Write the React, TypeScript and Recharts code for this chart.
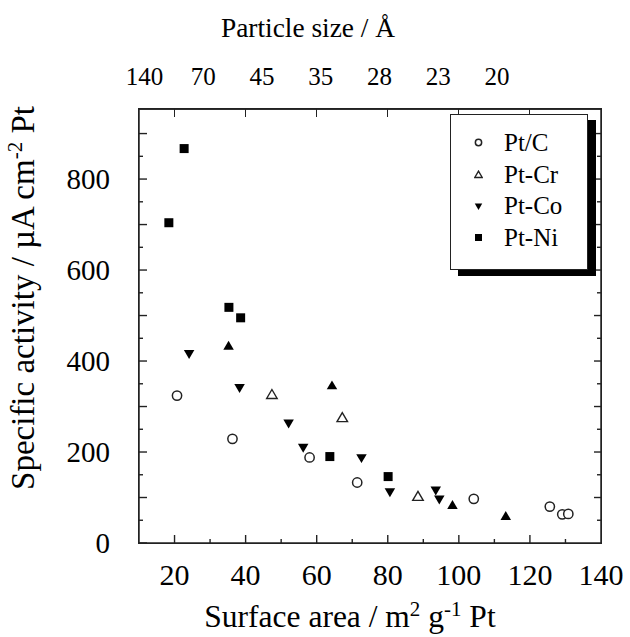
import { ScatterChart, Scatter, XAxis, YAxis, ReferenceLine } from 'recharts';

const W = 630;
const H = 637;
const FONT = '"Liberation Serif", "Times New Roman", serif';
const INK = '#222';

// surface area (m2/g Pt) vs specific activity (uA/cm2 Pt)
const ptC = [
  { area: 20.7, activity: 324 },
  { area: 36.3, activity: 229 },
  { area: 58.0, activity: 188 },
  { area: 71.4, activity: 133 },
  { area: 104.2, activity: 97 },
  { area: 125.6, activity: 80 },
  { area: 129.1, activity: 63 },
  { area: 130.8, activity: 64 },
];
const ptCr = [
  { area: 47.4, activity: 327 },
  { area: 67.2, activity: 276 },
  { area: 88.5, activity: 103 },
];
const ptCo = [
  { area: 24.1, activity: 415 },
  { area: 38.3, activity: 340 },
  { area: 52.1, activity: 262 },
  { area: 56.2, activity: 209 },
  { area: 72.6, activity: 186 },
  { area: 80.6, activity: 111 },
  { area: 93.5, activity: 115 },
  { area: 94.5, activity: 95 },
];
const ptNi = [
  { area: 18.4, activity: 704 },
  { area: 22.7, activity: 867 },
  { area: 35.3, activity: 518 },
  { area: 38.6, activity: 495 },
  { area: 63.7, activity: 190 },
  { area: 80.1, activity: 146 },
];
// solid up-triangles, not in the legend
const solidUp = [
  { area: 35.2, activity: 434 },
  { area: 64.3, activity: 347 },
  { area: 98.2, activity: 84 },
  { area: 113.2, activity: 60 },
];

const X_DOMAIN = [10, 140];
const areaTicks = [20, 30, 40, 50, 60, 70, 80, 90, 100, 110, 120, 130, 140];
const areaLabels = [20, 40, 60, 80, 100, 120, 140];
const topFrameTicks = [20, 40, 60, 80, 100, 120];
const particleAreas = [20, 40, 60, 80, 100, 120, 140];
const particleSizes = ['140', '70', '45', '35', '28', '23', '20'];
const activityTicks = [0, 50, 100, 150, 200, 250, 300, 350, 400, 450, 500, 550, 600, 650, 700, 750, 800, 850, 900];
const activityLabels = [0, 200, 400, 600, 800];
const Y_MAX = 954;

const legendItems = [
  { name: 'Pt/C', kind: 'circle' },
  { name: 'Pt-Cr', kind: 'openUp' },
  { name: 'Pt-Co', kind: 'down' },
  { name: 'Pt-Ni', kind: 'square' },
];

// invisible anchors so the top axis has something to scale
const topAnchors = particleAreas.map((area) => ({ area, activity: 0 }));

const TOP_H = 109;
const BOTTOM_H = 94;
const LEFT_W = 139;
const RIGHT_W = 29;
const BOTTOM_MARGIN = 42;
const LEFT_MARGIN = 29;
const TOP_MARGIN = 24;

function marker(kind: string, cx: number, cy: number, s: number) {
  const h = s / 2;
  if (kind === 'circle')
    return <circle cx={cx} cy={cy} r={h - 0.6} fill="#fff" stroke={INK} strokeWidth={1.5} />;
  if (kind === 'square')
    return <rect x={cx - h} y={cy - h} width={s} height={s} fill="#000" />;
  if (kind === 'down')
    return <polygon points={`${cx - h},${cy - h * 0.8} ${cx + h},${cy - h * 0.8} ${cx},${cy + h * 0.9}`} fill="#000" />;
  const pts = `${cx - h},${cy + h * 0.8} ${cx + h},${cy + h * 0.8} ${cx},${cy - h * 0.9}`;
  if (kind === 'openUp') return <polygon points={pts} fill="#fff" stroke={INK} strokeWidth={1.4} />;
  return <polygon points={pts} fill="#000" />;
}

const shapeOf = (kind: string) => (p: any) => marker(kind, p.cx, p.cy, kind === 'square' ? 9 : 10.5);

const LeftTick = (p: any) => {
  const v = p.payload.value;
  const ax = p.x + LEFT_MARGIN;
  const major = v % 100 === 0;
  return (
    <g>
      <line x1={ax} x2={ax + (major ? 8 : 4)} y1={p.y} y2={p.y} stroke={INK} strokeWidth={1.4} />
      {activityLabels.includes(v) && (
        <text x={p.x} y={p.y} dy="0.34em" textAnchor="end" fontFamily={FONT} fontSize={29} fill="#000">
          {v}
        </text>
      )}
    </g>
  );
};

const RightTick = (p: any) => {
  const v = p.payload.value;
  const major = v % 100 === 0;
  return <line x1={p.x} x2={p.x - (major ? 7 : 4)} y1={p.y} y2={p.y} stroke={INK} strokeWidth={1.4} />;
};

const BottomTick = (p: any) => {
  const v = p.payload.value;
  const ay = p.y - BOTTOM_MARGIN;
  const major = v % 20 === 0;
  return (
    <g>
      {v < 140 && <line x1={p.x} x2={p.x} y1={ay} y2={ay - (major ? 8 : 4)} stroke={INK} strokeWidth={1.4} />}
      {areaLabels.includes(v) && (
        <text x={p.x} y={p.y} textAnchor="middle" fontFamily={FONT} fontSize={30} fill="#000">
          {v}
        </text>
      )}
    </g>
  );
};

const TopLabelTick = (p: any) => (
  <text x={p.x} y={p.y} textAnchor="middle" fontFamily={FONT} fontSize={25} fill="#000">
    {particleSizes[particleAreas.indexOf(p.payload.value)]}
  </text>
);

const YTitle = (p: any) => {
  const vb = p.viewBox;
  const x = 34;
  const y = vb.y + vb.height / 2 - 28;
  return (
    <text x={x} y={y} transform={`rotate(-90, ${x}, ${y})`} textAnchor="middle" fontFamily={FONT} fontSize={33} fill="#000">
      Specific activity / µA cm<tspan dy={-12} fontSize={21}>-2</tspan>
      <tspan dy={12}> Pt</tspan>
    </text>
  );
};

const sup = (t: string) => (
  <span style={{ position: 'relative', top: -11, fontSize: 21 }}>{t}</span>
);

// box round the plot area, with the short ticks on its top edge
function PlotFrame() {
  const w = W - LEFT_W - RIGHT_W;
  const h = H - TOP_H - BOTTOM_H;
  const span = X_DOMAIN[1] - X_DOMAIN[0];
  return (
    <div
      style={{
        position: 'absolute',
        left: LEFT_W - 0.75,
        top: TOP_H - 0.75,
        width: w + 1.5,
        height: h + 1.5,
        boxSizing: 'border-box',
        border: `1.5px solid ${INK}`,
        pointerEvents: 'none',
      }}
    >
      {topFrameTicks.map((v) => (
        <div
          key={v}
          style={{
            position: 'absolute',
            left: `${((v - X_DOMAIN[0]) / span) * 100}%`,
            top: 0,
            width: 1.4,
            height: 8,
            marginLeft: -0.7,
            background: INK,
          }}
        />
      ))}
    </div>
  );
}

function ChartLegend() {
  return (
    <div
      style={{
        position: 'absolute',
        left: 450,
        top: 114,
        width: 138,
        boxSizing: 'border-box',
        border: '1.5px solid #222',
        background: '#fff',
        boxShadow: '8px 6px 0 #000',
        padding: '12px 0 15px 23px',
        fontFamily: FONT,
        fontSize: 25,
        lineHeight: '31.7px',
        color: '#000',
      }}
    >
      {legendItems.map((it) => (
        <div key={it.name} style={{ display: 'flex', alignItems: 'center' }}>
          <svg width={9} height={9} style={{ marginRight: 21, flexShrink: 0 }}>
            {marker(it.kind, 4.5, 4.5, it.kind === 'square' ? 7 : 7.5)}
          </svg>
          <span>{it.name}</span>
        </div>
      ))}
    </div>
  );
}

export default function App() {
  return (
    <div style={{ position: 'absolute', left: 0, top: 0, width: W, height: H, background: '#fff' }}>
      <ScatterChart width={W} height={H} margin={{ top: 0, right: 0, bottom: 0, left: 0 }}>
        <XAxis
          xAxisId="topLabels"
          dataKey="area"
          orientation="top"
          type="number"
          domain={[18.1, 175.4]}
          allowDataOverflow
          ticks={particleAreas}
          interval={0}
          height={TOP_H}
          tickSize={0}
          tickMargin={TOP_MARGIN}
          tickLine={false}
          axisLine={{ stroke: INK, strokeWidth: 1.5 }}
          tick={TopLabelTick}
        />
        <XAxis
          xAxisId="bottom"
          dataKey="area"
          type="number"
          domain={X_DOMAIN}
          allowDataOverflow
          ticks={areaTicks}
          interval={0}
          height={BOTTOM_H}
          tickSize={0}
          tickMargin={BOTTOM_MARGIN}
          tickLine={false}
          axisLine={{ stroke: INK, strokeWidth: 1.5 }}
          tick={BottomTick}
        />
        <YAxis
          yAxisId="left"
          dataKey="activity"
          type="number"
          domain={[0, Y_MAX]}
          allowDataOverflow
          ticks={activityTicks}
          interval={0}
          width={LEFT_W}
          tickSize={0}
          tickMargin={LEFT_MARGIN}
          tickLine={false}
          axisLine={{ stroke: INK, strokeWidth: 1.5 }}
          tick={LeftTick}
          label={{ content: YTitle }}
        />
        <YAxis
          yAxisId="right"
          orientation="right"
          type="number"
          domain={[0, Y_MAX]}
          allowDataOverflow
          ticks={activityTicks.slice(1)}
          interval={0}
          width={RIGHT_W}
          tickSize={0}
          tickMargin={0}
          tickLine={false}
          axisLine={{ stroke: INK, strokeWidth: 1.5 }}
          tick={RightTick}
        />
        <ReferenceLine xAxisId="bottom" yAxisId="left" y={Y_MAX} stroke={INK} strokeWidth={1.5} ifOverflow="visible" />
        <Scatter name="anchorLabels" data={topAnchors} xAxisId="topLabels" yAxisId="left" fill="none" legendType="none" isAnimationActive={false} />
        <Scatter name="Pt/C" data={ptC} xAxisId="bottom" yAxisId="left" shape={shapeOf('circle')} isAnimationActive={false} />
        <Scatter name="Pt-Cr" data={ptCr} xAxisId="bottom" yAxisId="left" shape={shapeOf('openUp')} isAnimationActive={false} />
        <Scatter name="Pt-Co" data={ptCo} xAxisId="bottom" yAxisId="left" shape={shapeOf('down')} isAnimationActive={false} />
        <Scatter name="Pt-Ni" data={ptNi} xAxisId="bottom" yAxisId="left" shape={shapeOf('square')} isAnimationActive={false} />
        <Scatter name="solid" data={solidUp} xAxisId="bottom" yAxisId="left" shape={shapeOf('solidUp')} legendType="none" isAnimationActive={false} />
      </ScatterChart>
      <div
        style={{
          position: 'absolute', left: 158, top: 15, width: 300, textAlign: 'center',
          fontFamily: FONT, fontSize: 27.4, lineHeight: 1, whiteSpace: 'nowrap', color: '#000',
        }}
      >
        Particle size / Å
      </div>
      <div
        style={{
          position: 'absolute', left: 150, top: 601, width: 400, textAlign: 'center',
          fontFamily: FONT, fontSize: 31.5, lineHeight: 1, whiteSpace: 'nowrap', color: '#000',
        }}
      >
        Surface area / m{sup('2')} g{sup('-1')} Pt
      </div>
      <PlotFrame />
      <ChartLegend />
    </div>
  );
}
